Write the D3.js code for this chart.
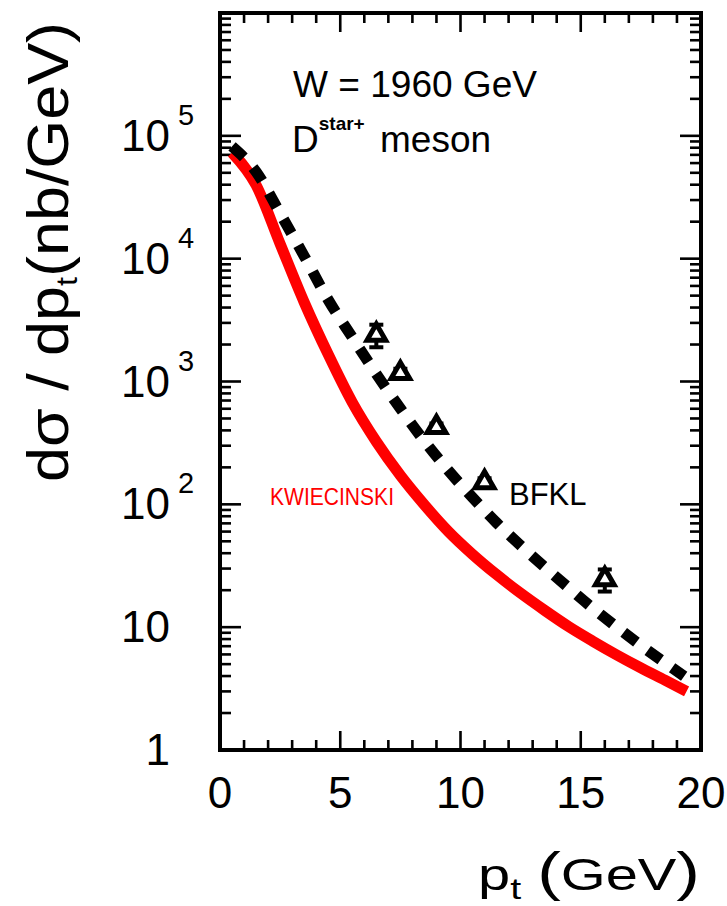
<!DOCTYPE html>
<html><head><meta charset="utf-8">
<script src="https://cdn.jsdelivr.net/npm/d3@7"></script>
<style>html,body{margin:0;padding:0;background:#fff}svg{display:block}text{font-family:"Liberation Sans",Arial,sans-serif}</style>
</head><body>
<script>
// ---- data ----
const kwiecinskiPt  = [0.5, 1.5, 2.5, 3.5, 4.5, 5.5, 6.5, 7.5, 8.5, 9.5, 10.5, 11.5, 12.5, 13.5, 14.5, 15.5, 16.5, 17.5, 18.5, 19.4];
const kwiecinskiVal = [73000, 39800, 13200, 4420, 1660, 676, 324, 172, 99, 60, 39.2, 26.8, 18.9, 13.7, 10.1, 7.69, 5.94, 4.66, 3.70, 3.0];
const bfklPt  = [0.5, 1.5, 2.5, 3.5, 4.5, 5.5, 6.5, 7.5, 8.5, 9.5, 10.5, 11.5, 12.5, 13.5, 14.5, 15.5, 16.5, 17.5, 18.5, 19.3];
const bfklVal = [82000, 51000, 23400, 10500, 4620, 2290, 1150, 603, 327, 188, 113.5, 70.8, 46.2, 30.9, 20.9, 14.3, 10, 7.1, 5.13, 3.98];
const dataPt  = [6.5, 7.5, 9, 11, 16];
const dataVal = [2400, 1170, 425, 151, 24.5];
const dataErr = [500, 100, 30, 12, 5];
const xTickValues = [0, 5, 10, 15, 20];
const yTickDecades = [1, 10, 100, 1000, 10000, 100000];
const yTickLabels = [["1", ""], ["10", ""], ["10", "2"], ["10", "3"], ["10", "4"], ["10", "5"]];

// ---- layout ----
const W = 727, H = 906;
const L = 220, R = 701, T = 13, B = 750;
const svg = d3.select("body").append("svg").attr("width", W).attr("height", H);
svg.append("rect").attr("width", W).attr("height", H).attr("fill", "#fff");

const x = d3.scaleLinear().domain([0, 20]).range([L, R]);
const y = d3.scaleLog().domain([1, 1e6]).range([B, T]);

// ticks
const minorX = d3.range(0, 21, 1);
const tickG = svg.append("g").attr("stroke", "#000").attr("stroke-width", 2.6);
minorX.forEach(v => {
  const len = v % 5 === 0 ? 19 : 10;
  tickG.append("line").attr("x1", x(v)).attr("x2", x(v)).attr("y1", B).attr("y2", B - len);
  tickG.append("line").attr("x1", x(v)).attr("x2", x(v)).attr("y1", T).attr("y2", T + len);
});
const yTicksAll = [];
for (let e = 0; e < 6; e++) for (let m = 1; m <= 9; m++) yTicksAll.push([m * Math.pow(10, e), m === 1]);
yTicksAll.push([1e6, true]);
yTicksAll.forEach(([v, major]) => {
  const len = major ? 21 : 11;
  tickG.append("line").attr("x1", L).attr("x2", L + len).attr("y1", y(v)).attr("y2", y(v));
  tickG.append("line").attr("x1", R).attr("x2", R - len).attr("y1", y(v)).attr("y2", y(v));
});

// x tick labels
svg.append("g").selectAll("text").data(xTickValues).join("text")
  .attr("x", d => x(d)).attr("y", 808).attr("text-anchor", "middle")
  .attr("font-size", 44).text(d => d);

// y tick labels
yTickDecades.forEach((v, i) => {
  svg.append("text").attr("x", 170).attr("y", y(v) + 15).attr("text-anchor", "end")
    .attr("font-size", 44).text(yTickLabels[i][0]);
  if (yTickLabels[i][1]) {
    svg.append("text").attr("x", 178).attr("y", y(v) - 11).attr("font-size", 29).text(yTickLabels[i][1]);
  }
});

// curves
const line = d3.line().x(d => x(d[0])).y(d => y(d[1])).curve(d3.curveMonotoneX);
svg.append("path").datum(kwiecinskiPt.map((p, i) => [p, kwiecinskiVal[i]]))
  .attr("d", line).attr("fill", "none").attr("stroke", "#ff0000").attr("stroke-width", 11);
svg.append("path").datum(bfklPt.map((p, i) => [p, bfklVal[i]]))
  .attr("d", line).attr("fill", "none").attr("stroke", "#000").attr("stroke-width", 11)
  .attr("stroke-dasharray", "16 14");

// data points with error bars
const eg = svg.append("g").attr("stroke", "#000").attr("stroke-width", 4);
dataPt.forEach((p, i) => {
  const cx = x(p), yt = y(dataVal[i] + dataErr[i]), yb = y(dataVal[i] - dataErr[i]);
  eg.append("line").attr("x1", cx).attr("x2", cx).attr("y1", yt).attr("y2", yb);
  eg.append("line").attr("x1", cx - 7).attr("x2", cx + 7).attr("y1", yt).attr("y2", yt);
  eg.append("line").attr("x1", cx - 7).attr("x2", cx + 7).attr("y1", yb).attr("y2", yb);
});
svg.append("g").selectAll("path").data(dataPt.map((p, i) => [p, dataVal[i]])).join("path")
  .attr("transform", d => `translate(${x(d[0])},${y(d[1])})`)
  .attr("d", d3.symbol(d3.symbolTriangle, 150))
  .attr("fill", "#fff").attr("stroke", "#000").attr("stroke-width", 5);

// frame
svg.append("rect").attr("x", L).attr("y", T).attr("width", R - L).attr("height", B - T)
  .attr("fill", "none").attr("stroke", "#000").attr("stroke-width", 4);

// annotations
svg.append("text").attr("x", 293).attr("y", 97).attr("font-size", 36)
  .attr("textLength", 244).attr("lengthAdjust", "spacingAndGlyphs").text("W = 1960 GeV");
const dt = svg.append("text").attr("x", 292).attr("y", 152).attr("font-size", 37);
dt.append("tspan").text("D");
dt.append("tspan").attr("dy", -22).attr("font-size", 19).attr("font-weight", "bold").text("star+");
dt.append("tspan").attr("dy", 22).attr("x", 380).text("meson");
svg.append("text").attr("x", 270).attr("y", 505).attr("font-size", 23).attr("fill", "#ff0000")
  .attr("textLength", 124).attr("lengthAdjust", "spacingAndGlyphs").text("KWIECINSKI");
svg.append("text").attr("x", 509).attr("y", 505).attr("font-size", 31).text("BFKL");

// axis titles
const xt = svg.append("text").attr("x", 478).attr("y", 890).attr("font-size", 44)
  .attr("textLength", 222).attr("lengthAdjust", "spacingAndGlyphs");
xt.append("tspan").text("p");
xt.append("tspan").attr("dy", 9).attr("font-size", 30).text("t");
xt.append("tspan").attr("dy", -9).text(" ");
xt.append("tspan").attr("font-size", 54).text("(");
xt.append("tspan").text("GeV");
xt.append("tspan").attr("font-size", 54).text(")");

const ytt = svg.append("text").attr("transform", "translate(68,252) rotate(-90)")
  .attr("text-anchor", "middle").attr("font-size", 58)
  .attr("textLength", 460).attr("lengthAdjust", "spacingAndGlyphs");
ytt.append("tspan").text("dσ / dp");
ytt.append("tspan").attr("dy", 9).attr("font-size", 30).text("t");
ytt.append("tspan").attr("dy", -9).text("(nb/GeV)");
</script>
</body></html>
